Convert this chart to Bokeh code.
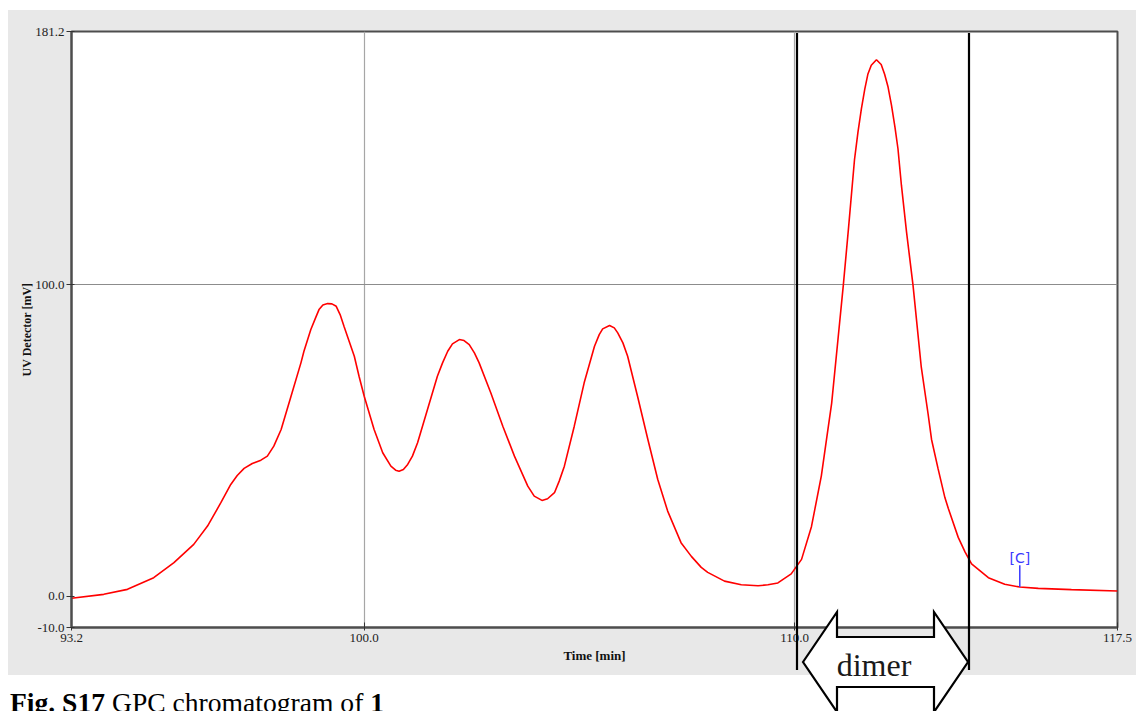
from bokeh.plotting import figure
from bokeh.layouts import column
from bokeh.models import Range1d, FixedTicker, PrintfTickFormatter, ColumnDataSource, Div
from bokeh.core.properties import value
from bokeh.embed import file_html
from bokeh.resources import INLINE

# GPC trace: elution time [min] and UV detector response [mV]
time_min = [93.20, 93.95, 94.50, 95.11, 95.58, 96.04, 96.36, 96.67, 96.90, 97.05,
            97.21, 97.40, 97.60, 97.75, 97.90, 98.07, 98.30, 98.53, 98.60, 98.76,
            98.87, 98.95, 99.04, 99.15, 99.25, 99.35, 99.44, 99.53, 99.65, 99.77,
            99.88, 100.00, 100.23, 100.43, 100.62, 100.73, 100.81, 100.91, 101.01, 101.12,
            101.24, 101.47, 101.70, 101.82, 101.94, 102.05, 102.21, 102.32, 102.44, 102.56,
            102.67, 102.94, 103.22, 103.49, 103.80, 103.95, 104.13, 104.26, 104.42, 104.53,
            104.65, 104.88, 105.11, 105.35, 105.46, 105.54, 105.70, 105.81, 105.89, 106.01,
            106.12, 106.35, 106.59, 106.82, 107.05, 107.36, 107.60, 107.83, 107.98, 108.37,
            108.76, 109.15, 109.38, 109.61, 109.92, 110.16, 110.39, 110.62, 110.74, 110.86,
            111.01, 111.13, 111.25, 111.39, 111.47, 111.55, 111.63, 111.70, 111.78, 111.90,
            112.01, 112.09, 112.17, 112.25, 112.33, 112.40, 112.48, 112.60, 112.75, 112.94,
            113.10, 113.18, 113.33, 113.49, 113.57, 113.80, 113.96, 114.11, 114.50, 114.88,
            115.23, 115.66, 116.43, 117.50]
uv_mv = [-0.64, 0.64, 2.24, 5.99, 10.80, 16.67, 22.53, 30.03, 35.90, 38.78,
         41.03, 42.63, 43.69, 44.97, 48.17, 53.53, 64.20, 74.90, 78.62, 85.58,
         89.33, 91.99, 93.49, 93.91, 93.81, 93.04, 90.38, 86.63, 81.83, 77.02,
         70.61, 64.20, 53.53, 46.06, 41.76, 40.48, 40.16, 40.71, 42.31, 44.97,
         49.26, 59.94, 70.61, 74.90, 78.62, 80.99, 82.37, 82.05, 80.77, 78.11,
         74.90, 65.29, 54.58, 44.97, 35.35, 32.15, 30.77, 31.31, 33.24, 36.96,
         41.76, 54.58, 68.49, 80.22, 83.97, 85.80, 86.86, 86.12, 84.52, 81.31,
         77.02, 64.20, 50.32, 37.50, 27.34, 17.21, 12.82, 9.29, 7.69, 4.87,
         3.69, 3.37, 3.69, 4.29, 7.21, 11.86, 22.34, 38.65, 50.32, 61.99,
         82.95, 99.74, 117.95, 140.06, 148.81, 156.41, 162.79, 167.47, 170.35, 172.12,
         170.61, 167.47, 163.37, 157.53, 150.55, 143.59, 131.89, 116.76, 99.74, 73.72,
         58.49, 50.32, 41.03, 31.67, 28.21, 18.91, 14.20, 10.42, 5.99, 3.85,
         2.98, 2.56, 2.15, 1.70]

x_ticks = [93.2, 100.0, 110.0, 117.5]
y_ticks = [-10.0, 0.0, 100.0, 181.2]
x_grid = [100.0, 110.0]
y_grid = [100.0]

# cursor mark "[C]" on the tail of the trace
marker_time = [115.23]
marker_mv = [2.98]
marker_len = 7.0

W, H = 1136, 711
PANEL = "#e8e8e8"
SERIF = "Liberation Serif"

# ---------------------------------------------------------------- chart
p = figure(width=W, height=H, output_backend="svg", toolbar_location=None,
           x_range=Range1d(93.2, 117.5), y_range=Range1d(-10.0, 181.2),
           min_border_left=71, min_border_right=19, min_border_top=31, min_border_bottom=84)

p.border_fill_color = PANEL
p.background_fill_color = "white"
p.outline_line_color = "#4d4d4d"
p.outline_line_width = 2

p.xaxis.ticker = FixedTicker(ticks=x_ticks)
p.yaxis.ticker = FixedTicker(ticks=y_ticks)
for ax in (p.xaxis[0], p.yaxis[0]):
    ax.formatter = PrintfTickFormatter(format="%.1f")
    ax.minor_tick_line_color = None
    ax.axis_line_color = "#4d4d4d"
    ax.axis_line_width = 2
    ax.major_tick_line_color = "#333333"
    ax.major_label_text_font = SERIF
    ax.major_label_text_font_size = "13px"
    ax.major_label_text_color = "#222222"
    ax.axis_label_text_font = SERIF
    ax.axis_label_text_font_style = "bold"
    ax.axis_label_text_color = "#111111"

p.xaxis.axis_label = "Time [min]"
p.xaxis.axis_label_text_font_size = "13px"
p.xaxis.major_tick_in = 5
p.xaxis.major_tick_out = 3
p.xaxis.major_label_standoff = 3
p.xaxis.axis_label_standoff = 3

p.yaxis.axis_label = "UV Detector [mV]"
p.yaxis.axis_label_text_font_size = "12px"
p.yaxis.major_tick_in = 3
p.yaxis.major_tick_out = 5
p.yaxis.major_label_standoff = 2
p.yaxis.axis_label_standoff = -2

p.xgrid.ticker = FixedTicker(ticks=x_grid)
p.ygrid.ticker = FixedTicker(ticks=y_grid)
p.xgrid.grid_line_color = "#a6a6a6"
p.ygrid.grid_line_color = "#8c8c8c"
p.grid.grid_line_width = 1.2

src = ColumnDataSource(data=dict(t=time_min, v=uv_mv))
p.line("t", "v", source=src, line_color="#ff0000", line_width=1.6)

p.segment(x0=marker_time, y0=marker_mv, x1=marker_time,
          y1=[m + marker_len for m in marker_mv], line_color="#3a3aff", line_width=1.5)
p.text(x=marker_time, y=[m + marker_len for m in marker_mv], text=["[C]"],
       text_font=value("DejaVu Sans"), text_font_size="14px", text_color="#3a3aff",
       text_align="center", text_baseline="bottom", y_offset=1)

# ---------------------------------------------------------------- page layer
# page margin, the dimer collection window and the figure caption sit on a
# transparent SVG layer above the chart (page pixel coordinates)
arrow_pts = [(803, 662), (837, 612), (837, 637), (934, 637), (934, 612), (968, 662),
             (934, 712), (934, 687), (837, 687), (837, 712)]
arrow_path = " ".join(f"{x},{y}" for x, y in arrow_pts)
serif_css = f"font-family:'{SERIF}','Times New Roman',serif"

layer_svg = f"""
<svg xmlns="http://www.w3.org/2000/svg" width="{W}" height="{H}"
     style="position:absolute;left:0;top:0;overflow:hidden">
  <rect x="0" y="0" width="{W}" height="10" fill="white"/>
  <rect x="0" y="0" width="8" height="{H}" fill="white"/>
  <rect x="0" y="675" width="{W}" height="{H - 675}" fill="white"/>
  <line x1="797" y1="33" x2="797" y2="670" stroke="black" stroke-width="2.2"/>
  <line x1="969" y1="33" x2="969" y2="670" stroke="black" stroke-width="2.2"/>
  <polygon points="{arrow_path}" fill="white" stroke="black" stroke-width="2.2"
           stroke-linejoin="miter"/>
  <text x="874" y="676" text-anchor="middle"
        style="{serif_css};font-size:32px;fill:#1a1a1a">dimer</text>
  <text x="10" y="712" xml:space="preserve"
        style="{serif_css};font-size:27.6px;fill:black"><tspan style="font-weight:bold">Fig. S17</tspan> GPC chromatogram of <tspan style="font-weight:bold">1</tspan></text>
</svg>
"""

layer = Div(text=layer_svg, width=W, height=H, margin=0,
            styles={"position": "absolute", "top": "0px", "left": "0px",
                    "pointer-events": "none", "padding": "0px"})

page = column(p, layer, margin=0)
page.styles = {"position": "relative"}

open("out.html", "w").write(file_html(page, INLINE))
